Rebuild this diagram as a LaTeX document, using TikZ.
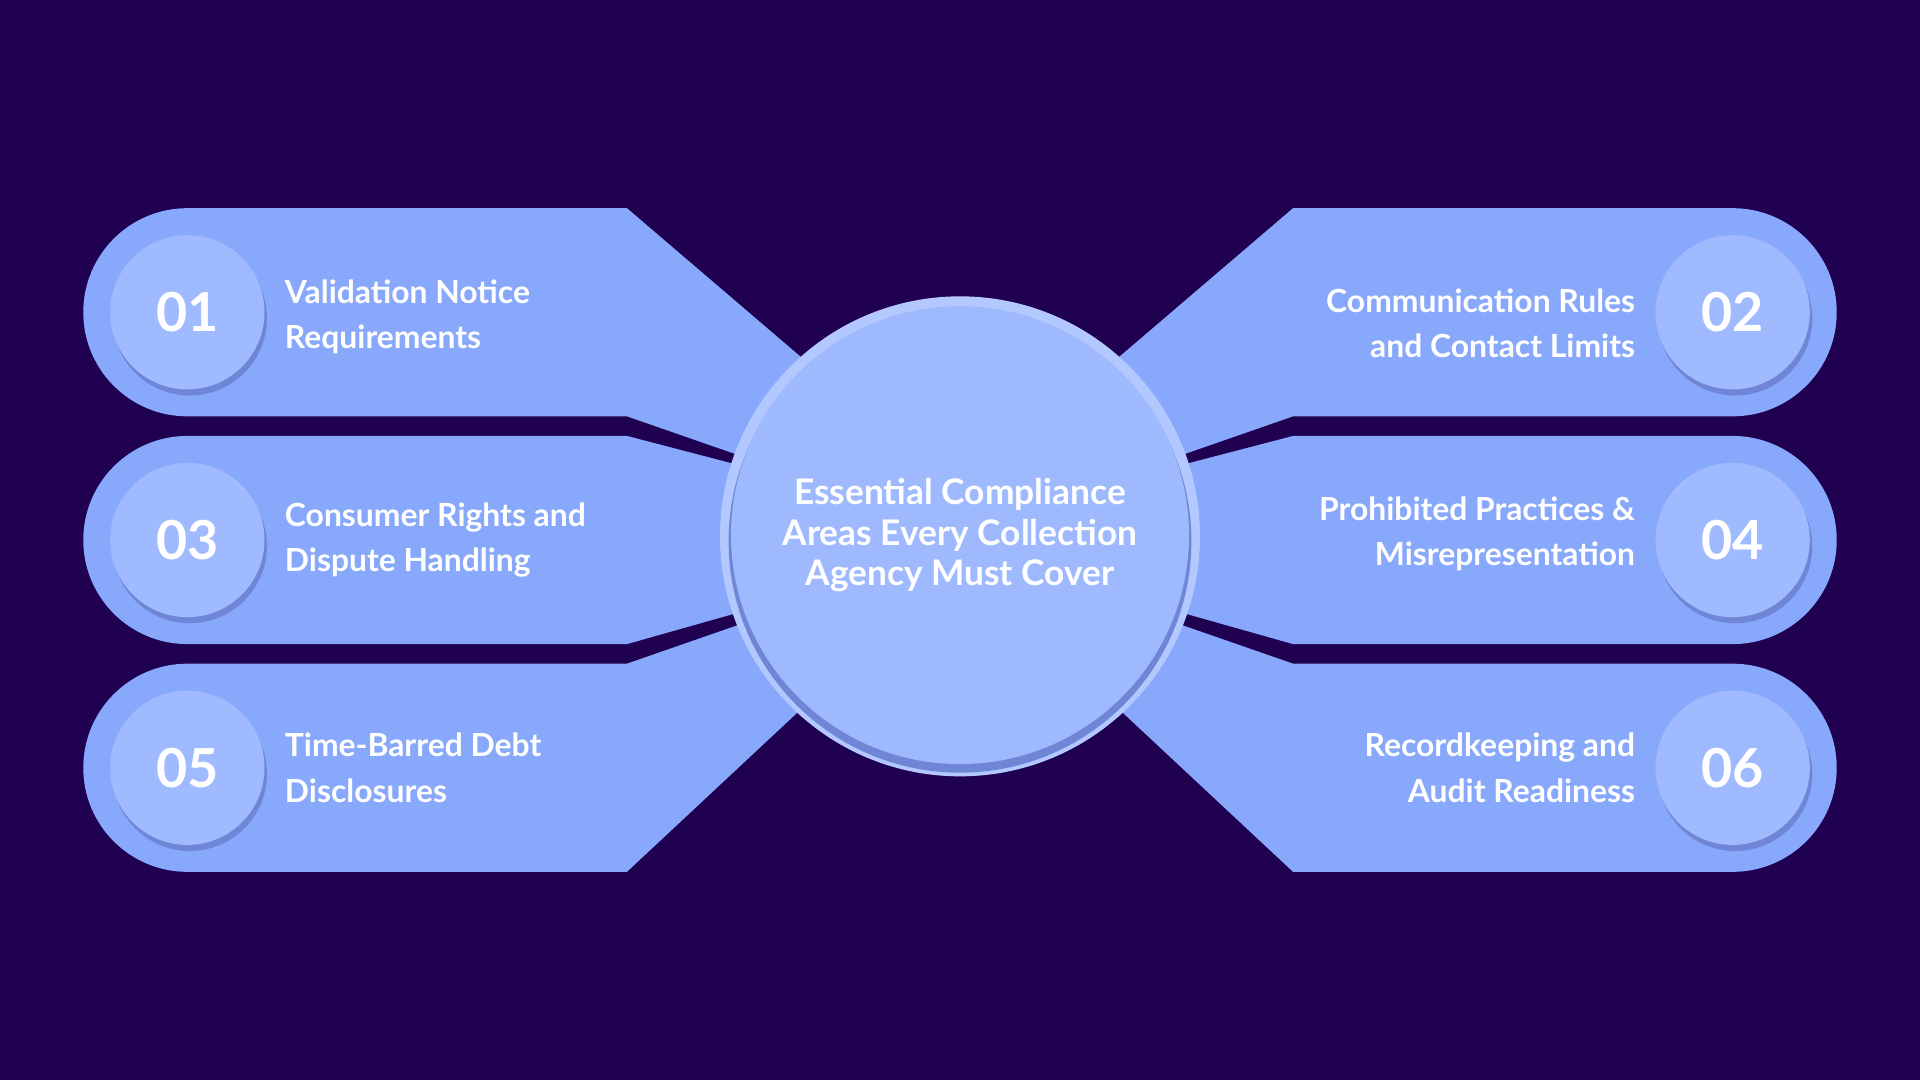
\documentclass[tikz,border=0pt]{standalone}
\usepackage{fontspec}
\setmainfont{Lato}
\begin{document}
\begin{tikzpicture}[x=0.1mm,y=-0.1mm,
 band/.style={fill=bandc},
 num/.style={circle,fill=numc,minimum size=126*0.1mm,inner sep=0pt,font=\bfseries\fontsize{12.5}{14}\selectfont,text=white},
 lbl/.style={font=\bfseries\fontsize{7.4}{10.5}\selectfont,text=white,inner sep=0pt}]
\definecolor{bg}{HTML}{200050}
\definecolor{bandc}{HTML}{88A8FC}
\definecolor{numc}{HTML}{A0BAFF}
\definecolor{cc}{HTML}{9FB9FF}
\definecolor{shad}{HTML}{6F86D6}
\fill[bg] (0,0) rectangle (1568,882);
\useasboundingbox (0,0) rectangle (1568,882);
\foreach \s in {1,-1}{
 \begin{scope}[shift={(784,0)},xscale=\s]
 \fill[bandc] (-272,170) -- (-631,170) arc[start angle=270,end angle=90,radius=85] -- (-272,340) -- (-180,372) -- (-120,300) -- cycle;
 \fill[bandc] (-272,356) -- (-631,356) arc[start angle=270,end angle=90,radius=85] -- (-272,526) -- (-180,500) -- (-180,380) -- cycle;
 \fill[bandc] (-272,542) -- (-631,542) arc[start angle=270,end angle=90,radius=85] -- (-272,712) -- (-120,570) -- (-180,510) -- cycle;
 \end{scope}}
\fill[numc!80!white] (784,438) circle (196);
\fill[shad] (784,442) circle (189);
\node[circle,fill=cc,minimum size=374*0.1mm,inner sep=0pt] (c) at (784,437) {};
\node[align=center,font=\bfseries\fontsize{8.2}{9.5}\selectfont,text=white] at (c) {Essential Compliance\\Areas Every Collection\\Agency Must Cover};
\foreach \n/\x/\y in {01/153/255,03/153/441,05/153/627,02/1415/255,04/1415/441,06/1415/627}{
 \fill[shad] (\x+2,\y+5) circle (63);
 \node[num] (n\n) at (\x,\y) {\n};}
\node[lbl,anchor=west,align=left] at (232,259) {Validation Notice\\Requirements};
\node[lbl,anchor=west,align=left] at (232,441) {Consumer Rights and\\Dispute Handling};
\node[lbl,anchor=west,align=left] at (232,627) {Time-Barred Debt\\Disclosures};
\node[lbl,anchor=east,align=right] at (1336,264) {Communication Rules\\and Contact Limits};
\node[lbl,anchor=east,align=right] at (1336,436) {Prohibited Practices \&\\Misrepresentation};
\node[lbl,anchor=east,align=right] at (1336,627) {Recordkeeping and\\Audit Readiness};
\end{tikzpicture}
\end{document}
